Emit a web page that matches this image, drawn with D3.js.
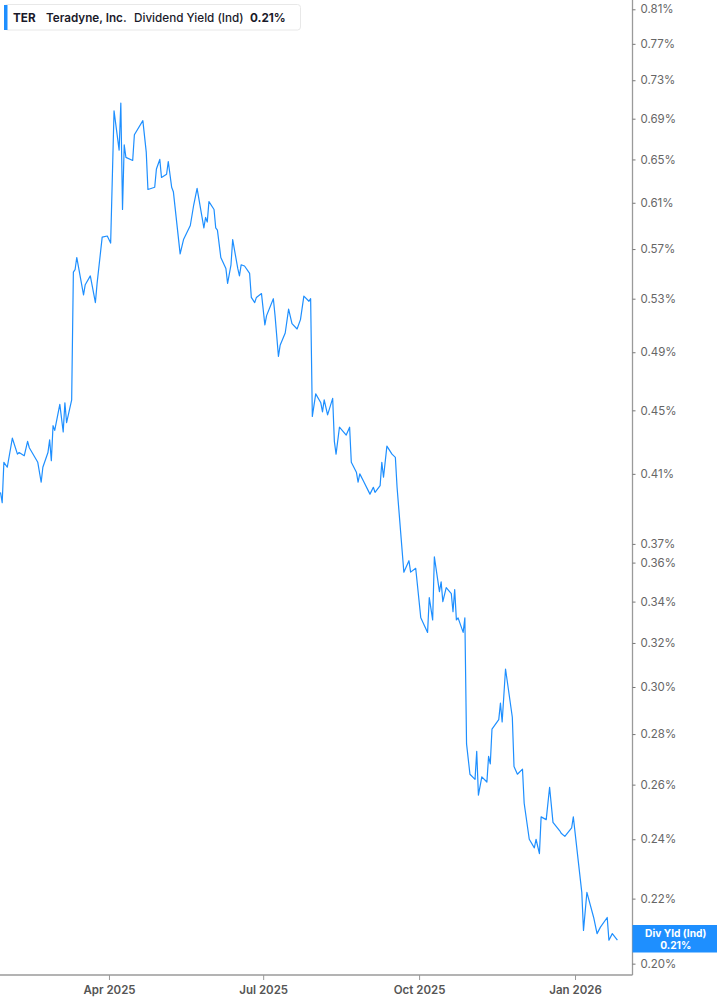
<!DOCTYPE html>
<html>
<head>
<meta charset="utf-8">
<script src="https://cdn.jsdelivr.net/npm/d3@7"></script>
<style>
  html, body { margin: 0; padding: 0; background: #fff; }
  svg { display: block; font-family: Inter, "Noto Sans", sans-serif; }
</style>
</head>
<body>
<svg id="chart" width="717" height="1005"></svg>
<script>
const ticker = "TER";
const company = "Teradyne, Inc.";
const metric = "Dividend Yield (Ind)";
const currentLabel = "0.21%";
const badgeTitle = "Div Yld (Ind)";

const dates = [
  "2025-01-27","2025-01-28","2025-01-29","2025-01-31","2025-02-03","2025-02-06","2025-02-07","2025-02-10","2025-02-12","2025-02-13",
  "2025-02-18","2025-02-20","2025-02-21","2025-02-24","2025-02-25","2025-02-26","2025-02-27","2025-02-28","2025-03-03","2025-03-05",
  "2025-03-06","2025-03-07","2025-03-10","2025-03-11","2025-03-12","2025-03-13","2025-03-17","2025-03-18","2025-03-21","2025-03-24",
  "2025-03-25","2025-03-28","2025-03-31","2025-04-02","2025-04-04","2025-04-07","2025-04-08","2025-04-09","2025-04-10","2025-04-11",
  "2025-04-15","2025-04-16","2025-04-21","2025-04-23","2025-04-24","2025-04-28","2025-04-29","2025-05-01","2025-05-02","2025-05-05",
  "2025-05-06","2025-05-08","2025-05-09","2025-05-13","2025-05-15","2025-05-19","2025-05-21","2025-05-23","2025-05-27","2025-05-28",
  "2025-05-29","2025-05-30","2025-06-02","2025-06-03","2025-06-04","2025-06-06","2025-06-09","2025-06-10","2025-06-12","2025-06-13",
  "2025-06-16","2025-06-17","2025-06-18","2025-06-20","2025-06-23","2025-06-24","2025-06-26","2025-06-27","2025-06-30","2025-07-02",
  "2025-07-03","2025-07-07","2025-07-08","2025-07-10","2025-07-11","2025-07-14","2025-07-16","2025-07-18","2025-07-21","2025-07-23",
  "2025-07-25","2025-07-28","2025-07-29","2025-07-30","2025-08-01","2025-08-04","2025-08-05","2025-08-06","2025-08-08","2025-08-11",
  "2025-08-12","2025-08-13","2025-08-15","2025-08-19","2025-08-21","2025-08-22","2025-08-25","2025-08-26","2025-08-27","2025-08-29",
  "2025-09-02","2025-09-04","2025-09-05","2025-09-08","2025-09-09","2025-09-10","2025-09-12","2025-09-15","2025-09-17","2025-09-18",
  "2025-09-22","2025-09-25","2025-09-26","2025-09-29","2025-10-02","2025-10-06","2025-10-07","2025-10-09","2025-10-10","2025-10-13",
  "2025-10-14","2025-10-15","2025-10-17","2025-10-20","2025-10-21","2025-10-22","2025-10-23","2025-10-24","2025-10-27","2025-10-28",
  "2025-10-29","2025-10-31","2025-11-03","2025-11-04","2025-11-05","2025-11-07","2025-11-10","2025-11-11","2025-11-12","2025-11-13",
  "2025-11-17","2025-11-18","2025-11-19","2025-11-21","2025-11-25","2025-11-26","2025-11-28","2025-12-01","2025-12-02","2025-12-05",
  "2025-12-08","2025-12-09","2025-12-11","2025-12-12","2025-12-15","2025-12-17","2025-12-19","2025-12-23","2025-12-24","2025-12-26",
  "2025-12-30","2025-12-31","2026-01-03","2026-01-05","2026-01-06","2026-01-08","2026-01-12","2026-01-14","2026-01-16","2026-01-20",
  "2026-01-21","2026-01-23","2026-01-26"
];

const yieldPct = [
  0.399,0.393,0.417,0.414,0.432,0.422,0.423,0.421,0.430,0.426,
  0.417,0.405,0.414,0.423,0.431,0.418,0.440,0.437,0.454,0.436,
  0.455,0.442,0.457,0.551,0.553,0.563,0.533,0.541,0.548,0.527,
  0.542,0.580,0.581,0.575,0.698,0.659,0.706,0.604,0.664,0.652,
  0.649,0.674,0.688,0.657,0.622,0.624,0.641,0.650,0.633,0.636,
  0.648,0.624,0.620,0.566,0.578,0.590,0.608,0.623,0.588,0.597,
  0.593,0.611,0.604,0.588,0.586,0.563,0.554,0.542,0.557,0.578,
  0.554,0.548,0.557,0.556,0.550,0.531,0.527,0.531,0.534,0.510,
  0.517,0.530,0.517,0.487,0.495,0.504,0.522,0.511,0.507,0.514,
  0.532,0.528,0.530,0.446,0.461,0.455,0.449,0.457,0.447,0.458,
  0.430,0.422,0.439,0.434,0.439,0.417,0.411,0.405,0.410,0.406,
  0.398,0.402,0.399,0.403,0.417,0.408,0.427,0.422,0.420,0.402,
  0.355,0.361,0.355,0.357,0.332,0.325,0.342,0.331,0.363,0.345,
  0.350,0.340,0.347,0.344,0.335,0.346,0.331,0.332,0.325,0.332,
  0.276,0.264,0.262,0.273,0.256,0.263,0.261,0.271,0.268,0.282,
  0.286,0.293,0.285,0.308,0.287,0.267,0.264,0.266,0.253,0.240,
  0.237,0.240,0.235,0.248,0.247,0.259,0.246,0.243,0.242,0.241,
  0.244,0.248,0.232,0.222,0.210,0.222,0.214,0.209,0.211,0.214,
  0.207,0.209,0.207
];

const yTickValues = [0.81,0.77,0.73,0.69,0.65,0.61,0.57,0.53,0.49,0.45,0.41,0.37,0.36,0.34,0.32,0.30,0.28,0.26,0.24,0.22,0.20];
const xTickDates = ["2025-04-01","2025-07-01","2025-10-01","2026-01-01"];
const xDomain = ["2025-01-26T17:00","2026-02-03T22:00"];
const yDomain = [0.1967, 0.8211];

const parse = d3.isoParse;
const data = dates.map((d, i) => ({ date: parse(d), value: yieldPct[i] }));

const W = 717, H = 1005;
const plotRight = 632.5, plotBottom = 975;

const svg = d3.select("#chart");

const x = d3.scaleTime()
  .domain(xDomain.map(s => new Date(s)))
  .range([0, plotRight]);

const y = d3.scaleLog()
  .domain(yDomain)
  .range([plotBottom, 0]);

// line
const line = d3.line()
  .x(d => x(d.date))
  .y(d => y(d.value));

svg.append("path")
  .datum(data)
  .attr("fill", "none")
  .attr("stroke", "#1e8fff")
  .attr("stroke-width", 1.2)
  .attr("stroke-linejoin", "round")
  .attr("d", line);

// y axis (right)
const yAxis = d3.axisRight(y)
  .tickValues(yTickValues)
  .tickSize(3)
  .tickPadding(5)
  .tickFormat(d => d.toFixed(2) + "%");

const gy = svg.append("g")
  .attr("transform", `translate(${plotRight},0)`)
  .call(yAxis);
gy.select(".domain").attr("stroke", "#9a9a9a").attr("stroke-width", 1.3)
  .attr("d", `M0,0V${plotBottom}`);
gy.selectAll(".tick line").attr("stroke", "#777");
gy.selectAll(".tick text")
  .attr("fill", "#666")
  .attr("font-size", "11.5px")
  .attr("font-family", "Inter, 'Noto Sans', sans-serif");

// x axis
const xAxis = d3.axisBottom(x)
  .tickValues(xTickDates.map(s => parse(s)))
  .tickSize(5)
  .tickPadding(6)
  .tickFormat(d3.timeFormat("%b %Y"));

const gx = svg.append("g")
  .attr("transform", `translate(0,${plotBottom})`)
  .call(xAxis);
gx.select(".domain").attr("stroke", "#9a9a9a").attr("stroke-width", 1.3)
  .attr("d", `M0,0H${plotRight}`);
gx.selectAll(".tick line").attr("stroke", "#999");
gx.selectAll(".tick text")
  .attr("fill", "#555")
  .attr("font-size", "11.5px")
  .attr("font-weight", 600)
  .attr("font-family", "Inter, 'Noto Sans', sans-serif");

// last value badge
const last = data[data.length - 1];
const badge = svg.append("g");
badge.append("rect")
  .attr("x", plotRight)
  .attr("y", 925)
  .attr("width", W - plotRight)
  .attr("height", 27.5)
  .attr("fill", "#1e8fff");
badge.append("text")
  .attr("x", (plotRight + W) / 2 + 1)
  .attr("y", 937)
  .attr("text-anchor", "middle")
  .attr("fill", "#fff")
  .attr("font-size", "10.2px")
  .attr("font-weight", 700)
  .text(badgeTitle);
badge.append("text")
  .attr("x", (plotRight + W) / 2 + 1)
  .attr("y", 948.7)
  .attr("text-anchor", "middle")
  .attr("fill", "#fff")
  .attr("font-size", "10.2px")
  .attr("font-weight", 700)
  .text(last.value.toFixed(2) + "%");

// header legend box
const head = svg.append("g");
head.append("rect")
  .attr("x", 4.5).attr("y", 4.5)
  .attr("width", 296).attr("height", 25.5)
  .attr("rx", 3)
  .attr("fill", "#fff")
  .attr("stroke", "#e8e8e8");
head.append("rect")
  .attr("x", 4).attr("y", 5)
  .attr("width", 3.5).attr("height", 25)
  .attr("fill", "#1e8fff");
const ht = head.append("text")
  .attr("y", 21.5)
  .attr("font-size", "11.7px")
  .attr("fill", "#1a1a2a");
ht.append("tspan").attr("x", 13).attr("font-weight", 700).text(ticker);
ht.append("tspan").attr("x", 46).attr("font-weight", 600).text(company);
ht.append("tspan").attr("x", 134).attr("font-weight", 500).text(metric);
ht.append("tspan").attr("x", 250).attr("font-weight", 700).text(currentLabel);
</script>
</body>
</html>
